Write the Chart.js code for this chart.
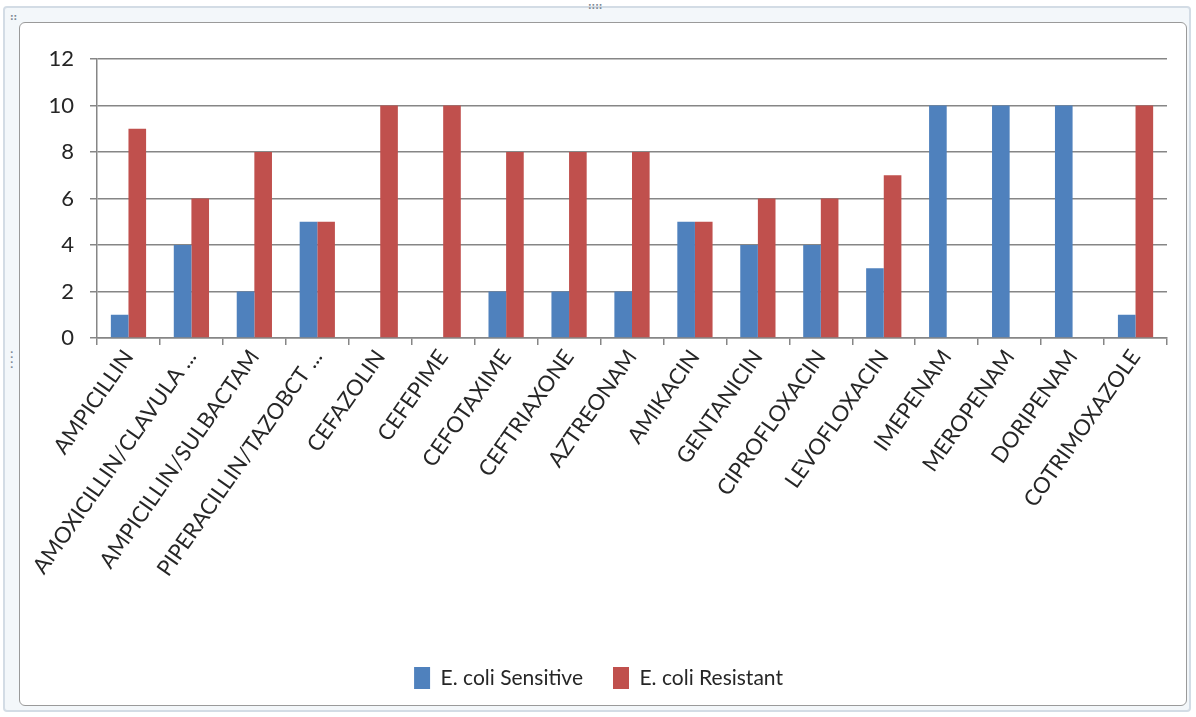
<!DOCTYPE html>
<html>
<head>
<meta charset="utf-8">
<script src="https://cdn.jsdelivr.net/npm/chart.js@4/dist/chart.umd.min.js"></script>
<style>
  html, body { margin: 0; padding: 0; background: #ffffff; }
  #wrap { position: relative; width: 1196px; height: 717px; overflow: hidden; }
  .outer { position: absolute; left: 3px; top: 6px; width: 1188px; height: 706px;
    border: 2px solid #d3dce5; border-radius: 4px; background: #f3f7fa; box-sizing: border-box; }
  .inner { position: absolute; left: 19px; top: 22px; width: 1168px; height: 684px;
    border: 1px solid #9a9a9a; border-radius: 6px; background: #ffffff; box-sizing: border-box; }
  .dots { position: absolute; color: #7f8a96; font: bold 9px "DejaVu Sans", sans-serif; }
  canvas { position: absolute; left: 0; top: 0; }
</style>
</head>
<body>
<div id="wrap">
  <div class="outer"></div>
  <div class="inner"></div>
  <div class="dots" style="left:588px;top:1px;">::::</div>
  <div class="dots" style="left:10px;top:12px;">::</div>
  <div class="dots" style="left:10px;top:350px;line-height:5px;">·<br>·<br>·<br>·</div>
  <canvas id="chart" width="1196" height="717"></canvas>
</div>
<script>
// ── data ────────────────────────────────────────────────────────
const drugs = [
  "AMPICILLIN", "AMOXICILLIN/CLAVULA ...", "AMPICILLIN/SULBACTAM", "PIPERACILLIN/TAZOBCT ...",
  "CEFAZOLIN", "CEFEPIME", "CEFOTAXIME", "CEFTRIAXONE", "AZTREONAM", "AMIKACIN",
  "GENTANICIN", "CIPROFLOXACIN", "LEVOFLOXACIN", "IMEPENAM", "MEROPENAM", "DORIPENAM",
  "COTRIMOXAZOLE"
];
const sensitive = [1, 4, 2, 5, 0, 0, 2, 2, 2, 5, 4, 4, 3, 10, 10, 10, 1];
const resistant = [9, 6, 8, 5, 10, 10, 8, 8, 8, 5, 6, 6, 7, 0, 0, 0, 10];
const yTicks = { min: 0, max: 12, step: 2 };

const FONT = "Lato, 'Open Sans', sans-serif";
const GRID = "#868686";

new Chart(document.getElementById("chart"), {
  type: "bar",
  data: {
    labels: drugs,
    datasets: [
      { label: "E. coli Sensitive", data: sensitive, backgroundColor: "#4f81bd",
        categoryPercentage: 0.56, barPercentage: 1.0 },
      { label: "E. coli Resistant", data: resistant, backgroundColor: "#c0504d",
        categoryPercentage: 0.56, barPercentage: 1.0 },
    ],
  },
  options: {
    responsive: false,
    animation: false,
    layout: { padding: { left: 30, right: 29, top: 59, bottom: 18 } },
    plugins: {
      legend: {
        position: "bottom",
        labels: {
          color: "#262626",
          font: { family: FONT, size: 21 },
          boxWidth: 16, boxHeight: 22,
          padding: 30,
        },
      },
      tooltip: { enabled: false },
    },
    scales: {
      x: {
        grid: { drawOnChartArea: false, drawTicks: true, tickLength: 7, color: GRID, lineWidth: 1.5 },
        border: { color: GRID, width: 1.5 },
        ticks: {
          color: "#262626", font: { family: FONT, size: 22 },
          minRotation: 55, maxRotation: 55, autoSkip: false, padding: 0,
        },
        afterFit: s => { s.height = 299; },
      },
      y: {
        min: yTicks.min, max: yTicks.max,
        grid: { color: GRID, lineWidth: 1.5, tickLength: 7 },
        border: { color: GRID, width: 1.5 },
        ticks: { stepSize: yTicks.step, color: "#262626", font: { family: FONT, size: 22 }, padding: 16 },
        afterFit: s => { s.width = 67; },
      },
    },
  },
});
</script>
</body>
</html>
